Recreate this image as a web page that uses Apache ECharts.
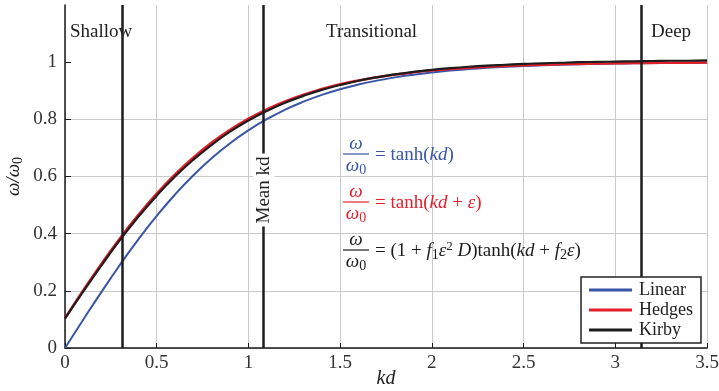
<!DOCTYPE html>
<html>
<head>
<meta charset="utf-8">
<script src="https://cdn.jsdelivr.net/npm/echarts@6/dist/echarts.min.js"></script>
<style>html,body{margin:0;padding:0;background:#fff}#c{width:719px;height:391px}</style>
</head>
<body>
<div id="c"></div>
<script>
// ---- data ----
var kd = [0,0.1,0.2,0.3,0.4,0.5,0.6,0.7,0.8,0.9,1.0,1.1,1.2,1.3,1.4,1.5,1.6,1.7,1.8,1.9,2.0,2.1,2.2,2.3,2.4,2.5,2.6,2.7,2.8,2.9,3.0,3.1,3.2,3.3,3.4,3.5];
var linear = [0,0.0997,0.1974,0.2913,0.3799,0.4621,0.5370,0.6044,0.6640,0.7163,0.7616,0.8005,0.8337,0.8617,0.8854,0.9051,0.9217,0.9354,0.9468,0.9562,0.9640,0.9705,0.9757,0.9801,0.9837,0.9866,0.9890,0.9910,0.9926,0.9940,0.9951,0.9959,0.9967,0.9973,0.9978,0.9982];
var hedges = [0.1046,0.2022,0.2959,0.3842,0.4659,0.5404,0.6073,0.6666,0.7186,0.7636,0.8022,0.8352,0.8630,0.8865,0.9060,0.9225,0.9360,0.9473,0.9567,0.9644,0.9708,0.9760,0.9803,0.9838,0.9867,0.9891,0.9911,0.9927,0.9940,0.9951,0.9960,0.9967,0.9973,0.9978,0.9982,0.9985];
var kirby = [0.103,0.198,0.290,0.378,0.459,0.533,0.600,0.659,0.711,0.757,0.796,0.829,0.858,0.882,0.903,0.920,0.935,0.947,0.957,0.966,0.973,0.979,0.984,0.988,0.991,0.994,0.996,0.998,1.000,1.001,1.002,1.003,1.004,1.005,1.005,1.006];
var boundaries = [0.3125, 1.085, 3.1416];
var seriesNames = ['Linear','Hedges','Kirby'];
var xTicks = [0,0.5,1,1.5,2,2.5,3,3.5];
var yTicks = [0,0.2,0.4,0.6,0.8,1];
var regionLabels = ['Shallow','Transitional','Deep'];

function pairs(vals){ return kd.map(function(x,i){return [x, vals[i]];}); }

var SERIF = '"Liberation Serif","DejaVu Serif",serif';
var BLUE = '#3a55a6', RED = '#e3202a', BLACK = '#1e1c1c';

var chart = echarts.init(document.getElementById('c'), null, {renderer:'canvas'});

function eqRich(color){
  return {
    r:{fontFamily:SERIF, fontSize:19, lineHeight:22, fill:color, color:color},
    i:{fontFamily:SERIF, fontSize:19, lineHeight:22, fontStyle:'italic', fill:color, color:color},
    s:{fontFamily:SERIF, fontSize:14, lineHeight:8, verticalAlign:'bottom', fill:color, color:color},
    p:{fontFamily:SERIF, fontSize:13, lineHeight:8, verticalAlign:'top', fill:color, color:color}
  };
}

function fraction(cx, yb, color){
  return [
    {type:'text', x:cx, y:yb-10, z:50, style:{text:'ω', font:'italic 19px '+SERIF, fill:color, align:'center', verticalAlign:'middle'}},
    {type:'line', z:50, shape:{x1:cx-13, y1:yb, x2:cx+13, y2:yb}, style:{stroke:color, lineWidth:1.2}},
    {type:'text', x:cx, y:yb+12, z:50, style:{text:'{i|ω}{s|0}', rich:eqRich(color), fill:color, align:'center', verticalAlign:'middle'}}
  ];
}

var graphics = [];
graphics = graphics.concat(fraction(356, 154, BLUE));
graphics.push({type:'text', x:375, y:155, z:50, style:{text:'{r|= tanh(}{i|kd}{r|)}', rich:eqRich(BLUE), fill:BLUE, align:'left', verticalAlign:'middle'}});
graphics = graphics.concat(fraction(356, 202, RED));
graphics.push({type:'text', x:375, y:203, z:50, style:{text:'{r|= tanh(}{i|kd}{r| + }{i|ε}{r|)}', rich:eqRich(RED), fill:RED, align:'left', verticalAlign:'middle'}});
graphics = graphics.concat(fraction(356, 250, BLACK));
graphics.push({type:'text', x:375, y:251, z:50, style:{text:'{r|= (1 + }{i|f}{s|1}{i|ε}{p|2}{r| }{i|D}{r|)tanh(}{i|kd}{r| + }{i|f}{s|2}{i|ε}{r|)}', rich:eqRich(BLACK), fill:BLACK, align:'left', verticalAlign:'middle'}});

// region labels
graphics.push({type:'text', x:70, y:32, z:50, style:{text:regionLabels[0], font:'19px '+SERIF, fill:'#222', align:'left', verticalAlign:'middle'}});
graphics.push({type:'text', x:326, y:32, z:50, style:{text:regionLabels[1], font:'19px '+SERIF, fill:'#222', align:'left', verticalAlign:'middle'}});
graphics.push({type:'text', x:651, y:32, z:50, style:{text:regionLabels[2], font:'19px '+SERIF, fill:'#222', align:'left', verticalAlign:'middle'}});
// Mean kd label
graphics.push({type:'text', x:264, y:190, rotation:Math.PI/2, z:60, style:{text:'Mean kd', font:'19px '+SERIF, fill:'#222', align:'center', verticalAlign:'middle', backgroundColor:'#fff', padding:[1,3,1,3]}});

var option = {
  animation:false,
  backgroundColor:'#fff',
  grid:{left:65, right:12, top:5, bottom:43, containLabel:false, outerBoundsMode:'none'},
  xAxis:{
    type:'value', min:0, max:3.5, interval:0.5,
    name:'kd', nameLocation:'middle', nameGap:21, nameMoveOverlap:false,
    nameTextStyle:{fontFamily:SERIF, fontStyle:'italic', fontSize:20, color:'#222'},
    axisLine:{lineStyle:{color:'#1a1a1a', width:1.5}},
    axisTick:{inside:true, length:5, lineStyle:{color:'#1a1a1a'}},
    axisLabel:{fontFamily:SERIF, fontSize:19, color:'#333', margin:6},
    splitLine:{show:true, lineStyle:{color:'#cacaca', width:1}}
  },
  yAxis:{
    type:'value', min:0, max:1.2, interval:0.2,
    name:'{i|ω/ω}{s|0}', nameLocation:'middle', nameGap:40, nameRotate:90, nameMoveOverlap:false,
    nameTextStyle:{rich:{i:{fontFamily:SERIF, fontStyle:'italic', fontSize:19, lineHeight:22, color:'#222'}, s:{fontFamily:SERIF, fontSize:14, lineHeight:8, verticalAlign:'bottom', color:'#222'}}},
    axisLine:{show:true, lineStyle:{color:'#1a1a1a', width:1.5}},
    axisTick:{inside:true, length:6, lineStyle:{color:'#1a1a1a'}, customValues:yTicks},
    axisLabel:{fontFamily:SERIF, fontSize:19, color:'#333', margin:8, customValues:yTicks,
      formatter:function(v){ return String(Math.round(v*10)/10); }},
    splitLine:{show:true, showMaxLine:false, lineStyle:{color:'#cacaca', width:1}}
  },
  legend:{
    orient:'vertical', right:18, bottom:48,
    data:seriesNames,
    icon:'rect', itemWidth:43, itemHeight:3, itemGap:2,
    padding:[4,8,4,8],
    backgroundColor:'#fff', borderColor:'#222', borderWidth:1.5,
    textStyle:{fontFamily:SERIF, fontSize:18, color:'#222', lineHeight:18, padding:[0,0,0,2]},
    z:20
  },
  series:[
    {name:seriesNames[0], type:'line', data:pairs(linear), smooth:true, showSymbol:false, color:BLUE, lineStyle:{width:2, color:BLUE}, z:3},
    {name:seriesNames[1], type:'line', data:pairs(hedges), smooth:true, showSymbol:false, color:RED, lineStyle:{width:2.5, color:RED}, z:4},
    {name:seriesNames[2], type:'line', data:pairs(kirby), smooth:true, showSymbol:false, color:BLACK, lineStyle:{width:2.2, color:BLACK}, z:5,
      markLine:{silent:true, symbol:['none','none'], label:{show:false},
        lineStyle:{type:'solid', color:'#1e1c1c', width:2.5},
        data:boundaries.map(function(b){return {xAxis:b};})}
    }
  ],
  graphic:graphics
};
chart.setOption(option);
</script>
</body>
</html>
